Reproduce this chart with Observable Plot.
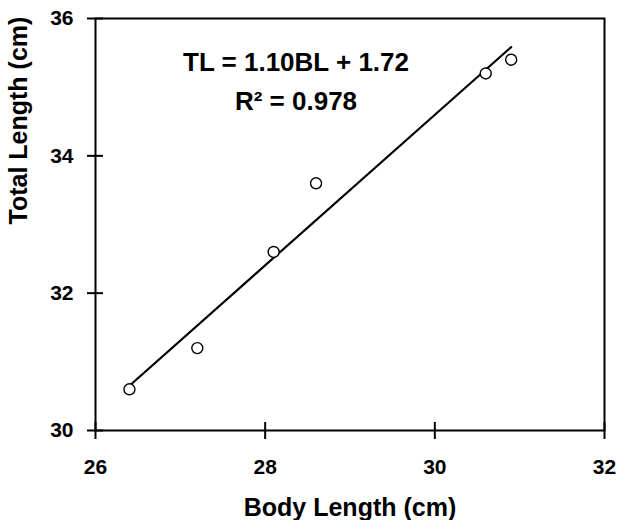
<!DOCTYPE html>
<html>
<head>
<meta charset="utf-8">
<script src="https://cdn.jsdelivr.net/npm/d3@7"></script>
<script src="https://cdn.jsdelivr.net/npm/@observablehq/plot@0.6"></script>
<style>
  html, body { margin: 0; padding: 0; background: #fff; }
  #chart svg text { font-family: 'Liberation Sans', Arial, sans-serif; font-weight: bold; }
</style>
</head>
<body>
<div id="chart"></div>
<script>
const bodyLength  = [26.4, 27.2, 28.1, 28.6, 30.6, 30.9];
const totalLength = [30.6, 31.2, 32.6, 33.6, 35.2, 35.4];
const xTicks = [26, 28, 30, 32];
const yTicks = [30, 32, 34, 36];
const xLabel = "Body Length (cm)";
const yLabel = "Total Length (cm)";
const equationText = "TL = 1.10BL + 1.72\nR² = 0.978";

const data = bodyLength.map((b, i) => ({bl: b, tl: totalLength[i]}));
const font = "'Liberation Sans', Arial, sans-serif";

const W = 619, H = 520, mL = 95, mR = 15, mT = 18, mB = 90;
const frameW = W - mL - mR, frameH = H - mT - mB;

const chart = Plot.plot({
  width: W,
  height: H,
  marginLeft: mL,
  marginRight: mR,
  marginTop: mT,
  marginBottom: mB,
  style: {fontFamily: font, fontWeight: "bold", fontSize: "20px", color: "#000", background: "#fff"},
  x: {domain: [26, 32], axis: null},
  y: {domain: [30, 36], axis: null},
  marks: [
    Plot.frame({stroke: "#000", strokeWidth: 2}),
    // crossing tick marks (span both sides of the frame edge)
    Plot.ruleX(xTicks, {x: d => d, insetTop: frameH - 17, dy: 9, stroke: "#000", strokeWidth: 2}),
    Plot.ruleY(yTicks, {y: d => d, insetRight: frameW - 16, dx: -8, stroke: "#000", strokeWidth: 2}),
    // tick labels
    Plot.text(xTicks, {x: d => d, text: d => String(d), frameAnchor: "bottom", dy: 37, lineAnchor: "middle", fontSize: 21, fill: "#000"}),
    Plot.text(yTicks, {y: d => d, text: d => String(d), frameAnchor: "left", dx: -22, textAnchor: "end", lineAnchor: "middle", fontSize: 21, fill: "#000"}),
    // axis titles
    Plot.text([xLabel], {frameAnchor: "bottom", dy: 85, lineAnchor: "bottom", fontSize: 25, fill: "#000"}),
    Plot.text([yLabel], {frameAnchor: "left", rotate: -90, dx: -77, lineAnchor: "middle", fontSize: 25, fill: "#000"}),
    // regression line
    Plot.linearRegressionY(data, {x: "bl", y: "tl", ci: 0, stroke: "#000", strokeWidth: 2.2}),
    // data points
    Plot.dot(data, {x: "bl", y: "tl", r: 5.5, fill: "#fff", stroke: "#000", strokeWidth: 1.4}),
    // equation annotation
    Plot.text([equationText], {frameAnchor: "top", dx: -54, dy: 25, lineAnchor: "top", lineHeight: 1.5, fontSize: 26, fill: "#000"})
  ]
});
document.getElementById("chart").appendChild(chart);
</script>
</body>
</html>
